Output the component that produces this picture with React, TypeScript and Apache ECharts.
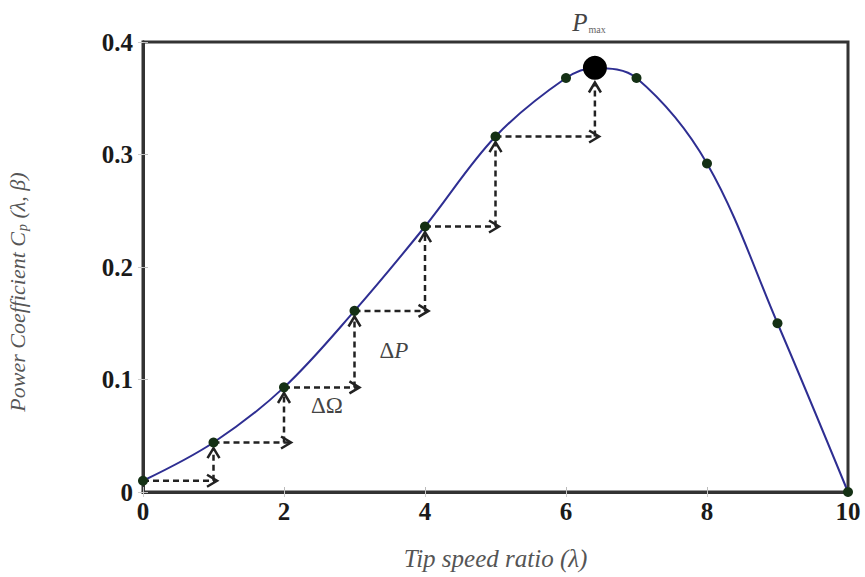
import React, { useEffect, useRef } from "react";
import * as echarts from "echarts";

// Sampled points on the Cp(λ) curve
const lambdaPts = [0, 1, 2, 3, 4, 5, 6, 7, 8, 9, 10];
const cpPts = [0.01, 0.044, 0.093, 0.161, 0.236, 0.316, 0.368, 0.368, 0.292, 0.15, 0.0];
// Maximum power point
const pmaxLambda = 6.41;
const pmaxCp = 0.377;
// Step arrows (hill-climbing): [x1, y1, x2, y2]
const arrowX1 = [0, 1, 1, 2, 2, 3, 3, 4, 4, 5, 5, 6.41];
const arrowY1 = [0.01, 0.01, 0.044, 0.044, 0.093, 0.093, 0.161, 0.161, 0.236, 0.236, 0.316, 0.316];
const arrowX2 = [1.05, 1, 2.1, 2, 3.07, 3, 4.05, 4, 5.05, 5, 6.47, 6.41];
const arrowY2 = [0.01, 0.039, 0.044, 0.088, 0.093, 0.156, 0.161, 0.231, 0.236, 0.311, 0.316, 0.364];
const xTicks = [0, 2, 4, 6, 8, 10];
const yTicks = [0, 0.1, 0.2, 0.3, 0.4];

const SERIF = "Liberation Serif, Times New Roman, Times, serif";

export default function App() {
  const ref = useRef<HTMLDivElement>(null);
  useEffect(() => {
    if (!ref.current) return;
    const chart = echarts.init(ref.current, null, { renderer: "svg" });

    const curve: number[][] = [];
    lambdaPts.forEach((x, i) => curve.push([x, cpPts[i]]));
    curve.push([pmaxLambda, pmaxCp]);
    curve.sort((a, b) => a[0] - b[0]);

    const dots = lambdaPts.map((x, i) => [x, cpPts[i]]);
    const arrows = arrowX1.map((x, i) => [x, arrowY1[i], arrowX2[i], arrowY2[i]]);

    const axisLabelStyle = {
      fontFamily: SERIF,
      fontWeight: "bold" as const,
      fontSize: 25,
      color: "#1a1a1a",
    };

    chart.setOption({
      animation: false,
      backgroundColor: "#fff",
      grid: {
        left: 143,
        right: 17,
        top: 42,
        bottom: 85,
        show: true,
        borderColor: "#333",
        borderWidth: 3,
        outerBoundsMode: "none",
      },
      xAxis: [
        {
          type: "value",
          min: 0,
          max: 10,
          interval: 2,
          name: "Tip speed ratio (λ)",
          nameLocation: "middle",
          nameGap: 54,
          nameTextStyle: {
            fontFamily: SERIF,
            fontStyle: "italic",
            fontSize: 25,
            color: "#555",
          },
          axisLine: { show: true, lineStyle: { color: "#333", width: 3 } },
          axisTick: { show: true, inside: true, length: 5, lineStyle: { color: "#bbb" } },
          splitLine: { show: false },
          axisLabel: {
            ...axisLabelStyle,
            margin: 7,
            formatter: (v: number) => (xTicks.includes(v) ? String(v) : ""),
          },
        },
        {
          type: "value",
          position: "top",
          min: 0,
          max: 10,
          interval: 2,
          axisLine: { show: true, lineStyle: { color: "#333", width: 3 } },
          axisTick: { show: true, inside: true, length: 5, lineStyle: { color: "#ccc" } },
          axisLabel: { show: false },
          splitLine: { show: false },
        },
      ],
      yAxis: [
        {
          type: "value",
          min: 0,
          max: 0.4,
          interval: 0.1,
          name: "{i|Power Coefficient C}{s|p}{i| (λ, β)}",
          nameLocation: "middle",
          nameRotate: 90,
          nameGap: 114,
          nameTextStyle: {
            fontFamily: SERIF,
            fontStyle: "italic",
            fontSize: 22,
            color: "#555",
            padding: [0, 50, 0, 0],
            rich: {
              i: { fontFamily: SERIF, fontStyle: "italic", fontSize: 22, color: "#555" },
              s: {
                fontFamily: SERIF,
                fontStyle: "italic",
                fontSize: 14,
                color: "#555",
                padding: [10, 0, 0, 1],
              },
            },
          },
          axisLine: { show: true, lineStyle: { color: "#333", width: 3 } },
          axisTick: { show: true, inside: true, length: 5, lineStyle: { color: "#bbb" } },
          splitLine: { show: false },
          axisLabel: {
            ...axisLabelStyle,
            margin: 10,
            formatter: (v: number) => {
              const r = Math.round(v * 10) / 10;
              return yTicks.includes(r) ? (r === 0 ? "0" : r.toFixed(1)) : "";
            },
          },
        },
        {
          type: "value",
          position: "right",
          min: 0,
          max: 0.4,
          interval: 0.1,
          axisLine: { show: true, lineStyle: { color: "#333", width: 3 } },
          axisTick: { show: true, inside: true, length: 5, lineStyle: { color: "#ccc" } },
          axisLabel: { show: false },
          splitLine: { show: false },
        },
      ],
      series: [
        {
          type: "line",
          data: curve,
          smooth: 0.35,
          showSymbol: false,
          lineStyle: { color: "#2e2e92", width: 2 },
          z: 2,
        },
        {
          type: "custom",
          data: arrows,
          encode: { x: [0, 2], y: [1, 3] },
          z: 3,
          renderItem: (params: any, api: any) => {
            const p1 = api.coord([api.value(0), api.value(1)]);
            const p2 = api.coord([api.value(2), api.value(3)]);
            const dx = p2[0] - p1[0];
            const dy = p2[1] - p1[1];
            const len = Math.sqrt(dx * dx + dy * dy) || 1;
            const ux = dx / len;
            const uy = dy / len;
            const nx = -uy;
            const ny = ux;
            const hl = 10;
            const hw = 6;
            return {
              type: "group",
              children: [
                {
                  type: "line",
                  shape: { x1: p1[0], y1: p1[1], x2: p2[0] - ux * 2, y2: p2[1] - uy * 2 },
                  style: { stroke: "#222", lineWidth: 2.5, lineDash: [6, 4] },
                },
                {
                  type: "polyline",
                  shape: {
                    points: [
                      [p2[0] - ux * hl + nx * hw, p2[1] - uy * hl + ny * hw],
                      [p2[0], p2[1]],
                      [p2[0] - ux * hl - nx * hw, p2[1] - uy * hl - ny * hw],
                    ],
                  },
                  style: { stroke: "#222", lineWidth: 2.5, fill: "none" },
                },
              ],
            };
          },
        },
        {
          type: "scatter",
          data: dots,
          symbol: "circle",
          symbolSize: 10,
          itemStyle: { color: "#143014", opacity: 1 },
          z: 4,
        },
        {
          type: "scatter",
          data: [[pmaxLambda, pmaxCp]],
          symbol: "circle",
          symbolSize: 24,
          itemStyle: { color: "#000", opacity: 1 },
          z: 5,
        },
      ],
      graphic: [
        {
          type: "text",
          x: 327,
          y: 405,
          style: {
            text: "ΔΩ",
            fontFamily: SERIF,
            fontSize: 23,
            fill: "#444",
            align: "center",
            verticalAlign: "middle",
          },
        },
        {
          type: "text",
          x: 394,
          y: 350,
          style: {
            text: "{a|Δ}{b|P}",
            align: "center",
            verticalAlign: "middle",
            rich: {
              a: { fontFamily: SERIF, fontSize: 23, fill: "#444", color: "#444" },
              b: { fontFamily: SERIF, fontStyle: "italic", fontSize: 23, fill: "#444", color: "#444" },
            },
          },
        },
        {
          type: "text",
          x: 589,
          y: 22,
          style: {
            text: "{p|P}{m|max}",
            align: "center",
            verticalAlign: "middle",
            rich: {
              p: { fontFamily: SERIF, fontStyle: "italic", fontSize: 25, fill: "#444", color: "#444" },
              m: {
                fontFamily: SERIF,
                fontSize: 10,
                fill: "#666",
                color: "#666",
                padding: [14, 0, 0, 1],
              },
            },
          },
        },
      ],
    });
    return () => chart.dispose();
  }, []);

  return (
    <div
      ref={ref}
      style={{ position: "fixed", left: 0, top: 0, width: 865, height: 577 }}
    />
  );
}
